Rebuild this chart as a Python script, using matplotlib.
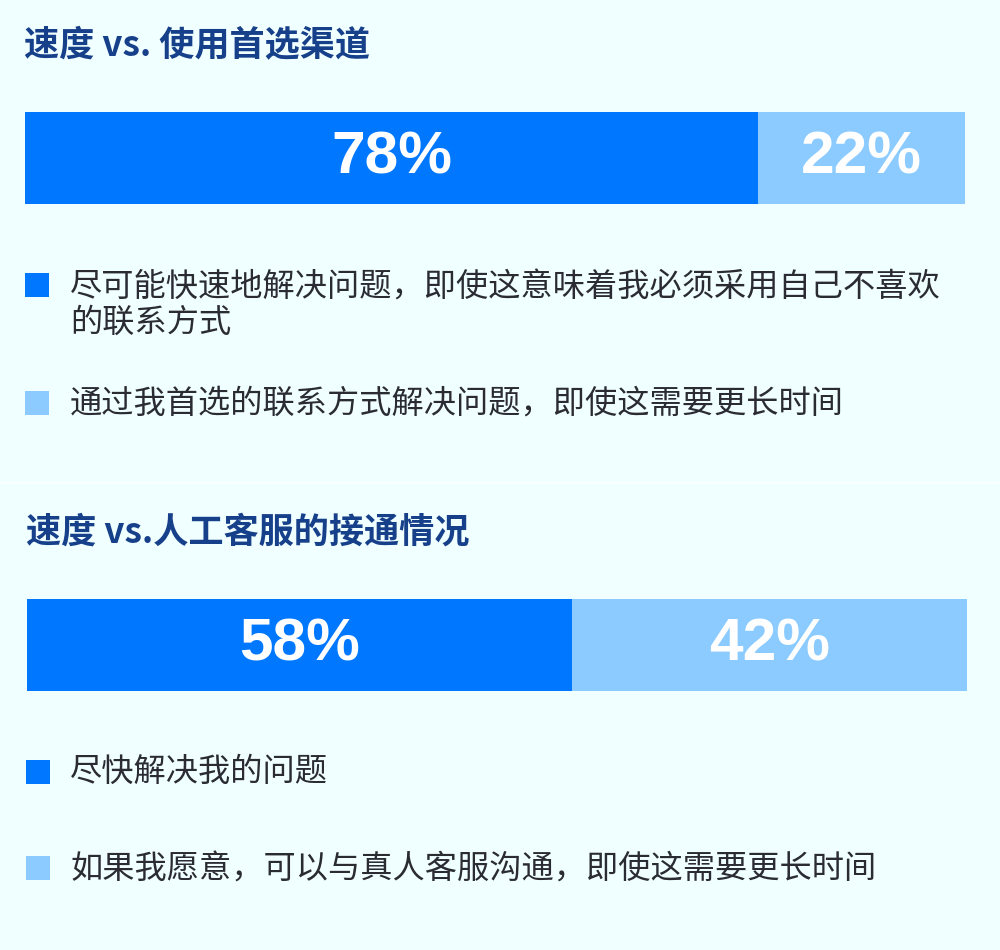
import matplotlib
matplotlib.use("Agg")
import matplotlib.pyplot as plt
from matplotlib.patches import Rectangle
from matplotlib.lines import Line2D

# 数据
titles = ["速度 vs. 使用首选渠道", "速度 vs.人工客服的接通情况"]
values_top = [78, 22]
values_bottom = [58, 42]
labels_top = ["尽可能快速地解决问题，即使这意味着我必须采用自己不喜欢\n的联系方式",
              "通过我首选的联系方式解决问题，即使这需要更长时间"]
labels_bottom = ["尽快解决我的问题",
                 "如果我愿意，可以与真人客服沟通，即使这需要更长时间"]
colors = ["#0077FF", "#8BCBFF"]

BG = "#F0FFFF"
TITLE_C = "#17408A"
TEXT_C = "#2A2B33"
CJK = ["Noto Sans CJK SC", "DejaVu Sans"]

W, H = 1000, 950
fig = plt.figure(figsize=(W / 100, H / 100), dpi=100)
fig.patch.set_facecolor(BG)


def fx(px):
    return px / W


def fy(py):
    # pixel y from top -> figure fraction
    return 1 - py / H


def draw_bar(values, left, top, bottom):
    ax = fig.add_axes([fx(left), fy(bottom), fx(940), (bottom - top) / H])
    start = 0
    for v, c in zip(values, colors):
        ax.barh(0, v, left=start, height=1, color=c, edgecolor="none")
        ax.text(start + v / 2, 0, f"{v}%", ha="center", va="center",
                color="white", fontsize=43.5, fontweight="bold",
                family="Liberation Sans")
        start += v
    ax.set_xlim(0, sum(values))
    ax.set_ylim(-0.5, 0.5)
    ax.axis("off")


def draw_legend(labels, x, ys, sq_ys):
    for lab, c, y, sy in zip(labels, colors, ys, sq_ys):
        fig.patches.append(Rectangle((fx(x), fy(sy + 24)), fx(24), 24 / H,
                                     transform=fig.transFigure,
                                     facecolor=c, edgecolor="none"))
        fig.text(fx(70), fy(y), lab, ha="left", va="center", fontsize=23.2,
                 color=TEXT_C, family=CJK, linespacing=1.12)


# 上半部分
fig.text(fx(24), fy(45), titles[0], ha="left", va="center", fontsize=25.3,
         fontweight="black", color=TITLE_C, family=CJK)
draw_bar(values_top, 25, 112, 204)
draw_legend(labels_top, 25, [305, 404], [273, 391])

# 分隔线
fig.lines.append(Line2D([0, 1], [fy(483), fy(483)], transform=fig.transFigure,
                        color="#FAFFFF", linewidth=1.2))

# 下半部分
fig.text(fx(26), fy(532), titles[1], ha="left", va="center", fontsize=25.3,
         fontweight="black", color=TITLE_C, family=CJK)
draw_bar(values_bottom, 27, 599, 691)
draw_legend(labels_bottom, 26, [772, 870], [760, 856])

fig.savefig("out.png", dpi=100, facecolor=BG)
